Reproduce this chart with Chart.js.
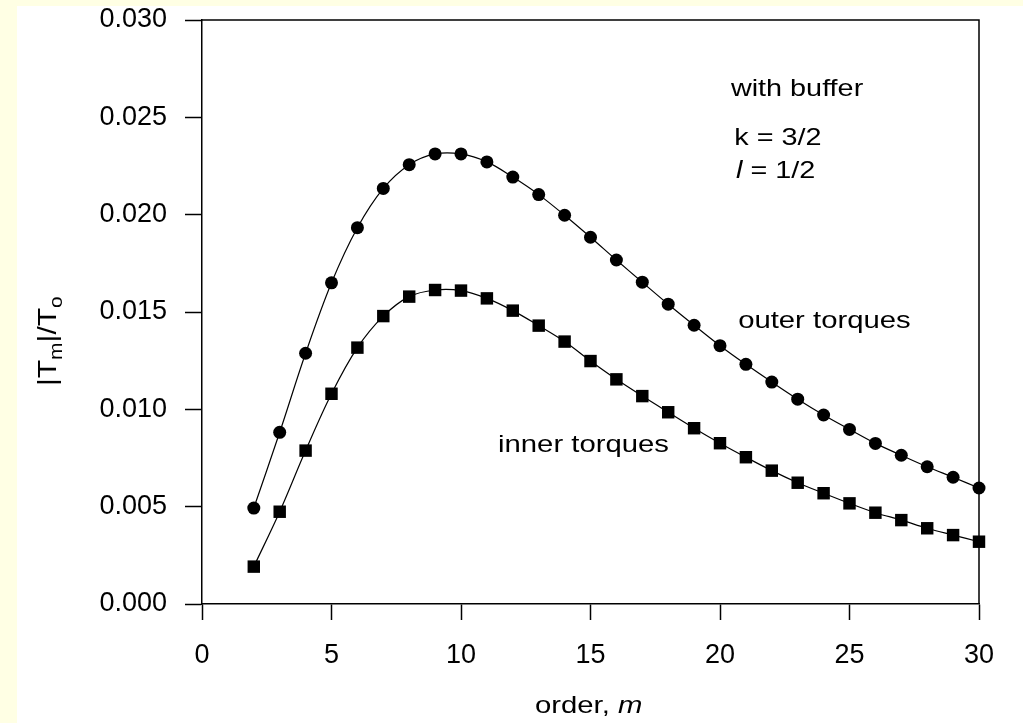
<!DOCTYPE html>
<html>
<head>
<meta charset="UTF-8">
<title>Torques vs order</title>
<script src="https://cdn.jsdelivr.net/npm/chart.js@4.4.1/dist/chart.umd.min.js"></script>
<style>
  html, body { margin: 0; padding: 0; overflow: hidden; background: #ffffe4; }
  canvas { display: block; }
</style>
</head>
<body>
<canvas id="chart" width="1023" height="723"></canvas>
<script>
// order m = 2..30
var orders = [2, 3, 4, 5, 6, 7, 8, 9, 10, 11, 12, 13, 14, 15, 16, 17, 18, 19, 20, 21, 22, 23, 24, 25, 26, 27, 28, 29, 30];
var outerTorques = [0.00493, 0.00882, 0.01288, 0.01650, 0.01933, 0.02135, 0.02257, 0.02312, 0.02312, 0.02271,
                    0.02193, 0.02103, 0.01997, 0.01884, 0.01767, 0.01653, 0.01540, 0.01432, 0.01327, 0.01231,
                    0.01140, 0.01052, 0.00971, 0.00897, 0.00825, 0.00764, 0.00705, 0.00651, 0.00596];
var innerTorques = [0.00192, 0.00474, 0.00788, 0.01080, 0.01317, 0.01479, 0.01579, 0.01613, 0.01610, 0.01570,
                    0.01507, 0.01430, 0.01348, 0.01248, 0.01154, 0.01068, 0.00985, 0.00903, 0.00826, 0.00754,
                    0.00685, 0.00623, 0.00569, 0.00517, 0.00469, 0.00431, 0.00389, 0.00354, 0.00320];
var xTicks = [0, 5, 10, 15, 20, 25, 30];
var yTicks = [0.000, 0.005, 0.010, 0.015, 0.020, 0.025, 0.030];

var FONT = '"Liberation Sans", Arial, sans-serif';

function toPoints(ys) {
    return orders.map(function(m, i) { return { x: m, y: ys[i] }; });
}

// text pieces: [string, italic, subscript]
function drawRich(ctx, pieces, x, y, size, stretch) {
    ctx.save();
    ctx.translate(x, y);
    ctx.scale(stretch, 1);
    var cx = 0;
    pieces.forEach(function(p) {
        var s = p[2] ? size * 0.7 : size;
        ctx.font = (p[1] ? 'italic ' : '') + s + 'px ' + FONT;
        ctx.fillText(p[0], cx, p[2] ? size * 0.25 : 0);
        cx += ctx.measureText(p[0]).width;
    });
    ctx.restore();
}

var background = {
    id: 'background',
    beforeDraw: function(chart) {
        var ctx = chart.ctx;
        ctx.save();
        ctx.fillStyle = '#ffffe4';
        ctx.fillRect(0, 0, chart.width, chart.height);
        ctx.fillStyle = '#ffffff';
        ctx.fillRect(17, 6, chart.width - 17, chart.height - 6);
        ctx.restore();
    }
};

var labels = {
    id: 'labels',
    afterDraw: function(chart) {
        var ctx = chart.ctx, a = chart.chartArea;
        var xs = chart.scales.x, ys = chart.scales.y;
        ctx.save();
        // closing frame
        ctx.strokeStyle = '#000';
        ctx.lineWidth = 1.5;
        ctx.beginPath();
        ctx.moveTo(a.left, a.top);
        ctx.lineTo(a.right, a.top);
        ctx.lineTo(a.right, a.bottom);
        ctx.stroke();

        ctx.fillStyle = '#000';
        ctx.textBaseline = 'alphabetic';
        ctx.textAlign = 'left';
        var tx = function(v) { return xs.getPixelForValue(v); };
        var ty = function(v) { return ys.getPixelForValue(v); };
        drawRich(ctx, [['with buffer']], tx(20.42), ty(0.0261), 24, 1.2);
        drawRich(ctx, [['k = 3/2']], tx(20.55), ty(0.02358), 24, 1.2);
        drawRich(ctx, [['l', true], [' = 1/2']], tx(20.62), ty(0.02188), 24, 1.2);
        drawRich(ctx, [['outer torques']], tx(20.7), ty(0.01418), 24, 1.22);
        drawRich(ctx, [['inner torques']], tx(11.43), ty(0.00781), 24, 1.22);

        // axis titles
        drawRich(ctx, [['order, '], ['m', true]], 535, 713, 24, 1.22);
        ctx.save();
        ctx.translate(56, 386);
        ctx.rotate(-Math.PI / 2);
        drawRich(ctx, [['|T'], ['m', false, true], ['|/T'], ['o', false, true]], 0, 0, 25, 1.2);
        ctx.restore();
        ctx.restore();
    }
};

var ctx = document.getElementById('chart').getContext('2d');
new Chart(ctx, {
    type: 'line',
    data: {
        datasets: [
            {
                label: 'outer torques',
                data: toPoints(outerTorques),
                borderColor: '#000',
                backgroundColor: '#000',
                borderWidth: 1.2,
                pointStyle: 'circle',
                pointRadius: 6.5,
                pointBorderWidth: 0,
                tension: 0.35,
                clip: false
            },
            {
                label: 'inner torques',
                data: toPoints(innerTorques),
                borderColor: '#000',
                backgroundColor: '#000',
                borderWidth: 1.2,
                pointStyle: 'rect',
                pointRadius: 8.8,
                pointBorderWidth: 0,
                tension: 0.35,
                clip: false
            }
        ]
    },
    options: {
        responsive: false,
        devicePixelRatio: 1,
        animation: false,
        layout: { padding: { left: 0, top: 20, right: 44, bottom: 0 } },
        plugins: {
            legend: { display: false },
            tooltip: { enabled: false }
        },
        scales: {
            x: {
                type: 'linear',
                min: 0,
                max: 30,
                afterFit: function(scale) {
                    scale.height = 119;
                    scale.paddingLeft = 0;
                    scale.paddingRight = 0;
                },
                afterBuildTicks: function(scale) {
                    scale.ticks = xTicks.map(function(v) { return { value: v }; });
                },
                ticks: {
                    color: '#000',
                    padding: 19,
                    maxRotation: 0,
                    font: { family: FONT, size: 27 },
                    callback: function(v) { return String(v); }
                },
                grid: { drawOnChartArea: false, drawTicks: true, tickLength: 16, tickColor: '#000', tickWidth: 1.5 },
                border: { color: '#000', width: 1.5 }
            },
            y: {
                type: 'linear',
                min: 0,
                max: 0.03,
                afterFit: function(scale) {
                    scale.width = 202;
                    scale.paddingTop = 0;
                    scale.paddingBottom = 0;
                },
                afterBuildTicks: function(scale) {
                    scale.ticks = yTicks.map(function(v) { return { value: v }; });
                },
                ticks: {
                    color: '#000',
                    padding: 18,
                    font: { family: FONT, size: 27 },
                    callback: function(v) { return v.toFixed(3); }
                },
                grid: { drawOnChartArea: false, drawTicks: true, tickLength: 17, tickColor: '#000', tickWidth: 1.5 },
                border: { color: '#000', width: 1.5 }
            }
        }
    },
    plugins: [background, labels]
});
</script>
</body>
</html>
